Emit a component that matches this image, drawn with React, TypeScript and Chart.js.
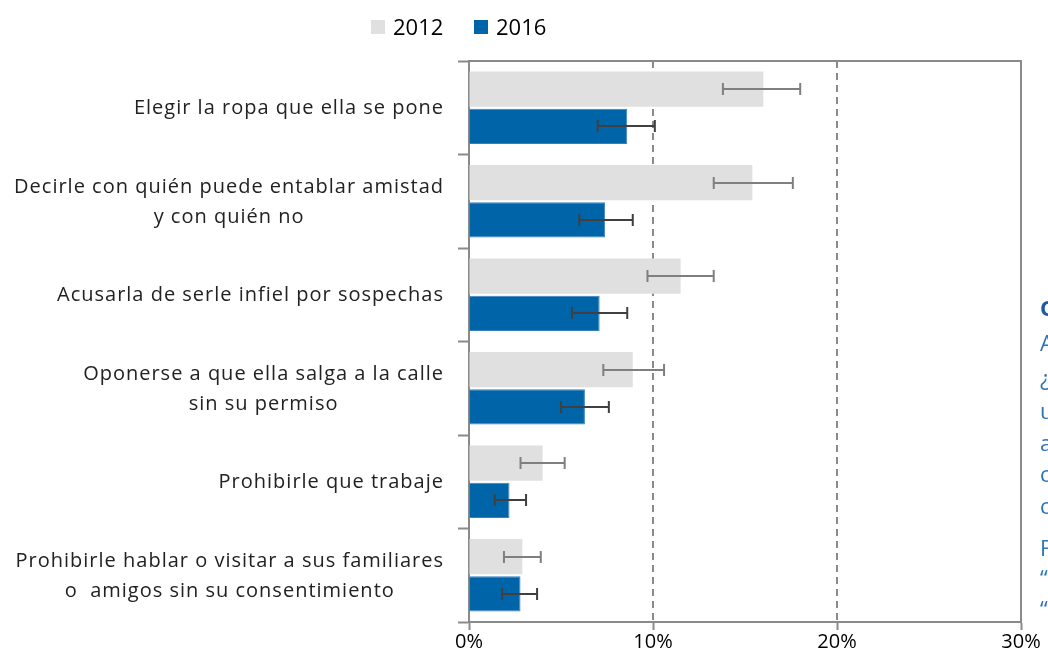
import React, { useEffect, useRef } from "react";
import { Chart, registerables } from "chart.js";

Chart.register(...registerables);

const categories: string[][] = [
  ["Elegir la ropa que ella se pone"],
  ["Decirle con quién puede entablar amistad", "y con quién no"],
  ["Acusarla de serle infiel por sospechas"],
  ["Oponerse a que ella salga a la calle", "sin su permiso"],
  ["Prohibirle que trabaje"],
  ["Prohibirle hablar o visitar a sus familiares", "o  amigos sin su consentimiento"],
];

const seriesNames = ["2012", "2016"];
const values2012 = [16.0, 15.4, 11.5, 8.9, 4.0, 2.9];
const low2012 = [13.8, 13.3, 9.7, 7.3, 2.8, 1.9];
const high2012 = [18.0, 17.6, 13.3, 10.6, 5.2, 3.9];
const values2016 = [8.6, 7.4, 7.1, 6.3, 2.2, 2.8];
const low2016 = [7.0, 6.0, 5.6, 5.0, 1.4, 1.8];
const high2016 = [10.1, 8.9, 8.6, 7.6, 3.1, 3.7];
const xTicks = [0, 10, 20, 30];

const sideLetters = ["C", "A", "¿", "u", "a", "c", "c", "F", "“", "“"];
const sideLetterTops = [293, 328, 363, 396, 428, 459, 491, 533, 563, 594];

const FONT = "'Open Sans', 'Noto Sans', sans-serif";
const COLORS = ["#e0e0e0", "#0064a8"];
const ERR_COLORS = ["#7f7f7f", "#404040"];
const AXIS = "#8a8a8a";

export default function App() {
  const ref = useRef<HTMLCanvasElement | null>(null);

  useEffect(() => {
    if (!ref.current) return;
    const lows = [low2012, low2016];
    const highs = [high2012, high2016];

    const framePlugin = {
      id: "frame",
      beforeDatasetsDraw(chart: any) {
        const { ctx, chartArea, scales } = chart;
        const x = scales.x;
        ctx.save();
        ctx.strokeStyle = AXIS;
        ctx.lineWidth = 2;
        ctx.setLineDash([7, 5]);
        for (const v of xTicks.slice(1, -1)) {
          const px = Math.round(x.getPixelForValue(v));
          ctx.beginPath();
          ctx.moveTo(px, chartArea.top);
          ctx.lineTo(px, chartArea.bottom);
          ctx.stroke();
        }
        ctx.setLineDash([]);
        const rx = Math.round(x.getPixelForValue(xTicks[xTicks.length - 1]));
        ctx.beginPath();
        ctx.moveTo(chartArea.left, chartArea.top);
        ctx.lineTo(rx, chartArea.top);
        ctx.lineTo(rx, chartArea.bottom);
        ctx.stroke();
        ctx.restore();
      },
      afterDatasetsDraw(chart: any) {
        const { ctx, scales } = chart;
        const x = scales.x;
        ctx.save();
        chart.data.datasets.forEach((_ds: any, di: number) => {
          const meta = chart.getDatasetMeta(di);
          ctx.strokeStyle = ERR_COLORS[di];
          ctx.lineWidth = 2;
          meta.data.forEach((bar: any, i: number) => {
            const { y } = bar.getProps(["y"], true);
            const x1 = x.getPixelForValue(lows[di][i]);
            const x2 = x.getPixelForValue(highs[di][i]);
            const cy = Math.round(y);
            ctx.beginPath();
            ctx.moveTo(x1, cy);
            ctx.lineTo(x2, cy);
            ctx.moveTo(x1, cy - 6);
            ctx.lineTo(x1, cy + 6);
            ctx.moveTo(x2, cy - 6);
            ctx.lineTo(x2, cy + 6);
            ctx.stroke();
          });
        });
        ctx.restore();
      },
      afterDraw(chart: any) {
        const { ctx, scales } = chart;
        const yS = scales.y;
        ctx.save();
        ctx.font = `20px ${FONT}`;
        (ctx as any).letterSpacing = "1px";
        ctx.fillStyle = "#222222";
        ctx.textAlign = "center";
        ctx.textBaseline = "middle";
        const right = 444;
        categories.forEach((lines, i) => {
          const cy = yS.getPixelForTick(i);
          const w = Math.max(...lines.map((l) => ctx.measureText(l).width));
          const cx = right - w / 2;
          lines.forEach((l, j) => {
            ctx.fillText(l, cx, cy + (j - (lines.length - 1) / 2) * 30 + 1);
          });
        });
        ctx.restore();
      },
    };

    const chart = new Chart(ref.current, {
      type: "bar",
      data: {
        labels: categories.map((c) => c.join(" ")),
        datasets: [
          {
            label: seriesNames[0],
            data: values2012,
            backgroundColor: COLORS[0],
            borderWidth: 0,
            categoryPercentage: 0.8,
            barPercentage: 0.94,
          },
          {
            label: seriesNames[1],
            data: values2016,
            backgroundColor: COLORS[1],
            borderColor: "#3a7fbf",
            borderWidth: 1,
            categoryPercentage: 0.8,
            barPercentage: 0.94,
          },
        ],
      },
      options: {
        indexAxis: "y",
        responsive: false,
        animation: false,
        layout: { padding: { top: 61, right: 27, left: 0, bottom: 0 } },
        plugins: {
          legend: { display: false },
          tooltip: { enabled: false },
        },
        scales: {
          x: {
            min: 0,
            max: 30,
            afterBuildTicks(scale: any) {
              scale.ticks = xTicks.map((v) => ({ value: v }));
            },
            afterFit(scale: any) {
              scale.height = 44;
            },
            ticks: {
              callback: (v: any) => `${v}%`,
              color: "#000",
              font: { family: FONT, size: 20 },
              padding: 0,
              maxRotation: 0,
            },
            grid: {
              drawOnChartArea: false,
              drawTicks: true,
              tickLength: 8,
              tickColor: AXIS,
              tickWidth: 2,
            },
            border: { display: true, color: AXIS, width: 2 },
          },
          y: {
            afterFit(scale: any) {
              scale.width = 469;
            },
            ticks: { display: false },
            grid: {
              offset: true,
              drawOnChartArea: false,
              drawTicks: true,
              tickLength: 11,
              tickColor: AXIS,
              tickWidth: 2,
            },
            border: { display: true, color: AXIS, width: 2 },
          },
        },
      },
      plugins: [framePlugin],
    });
    return () => chart.destroy();
  }, []);

  const legendText: React.CSSProperties = {
    position: "absolute",
    top: 11,
    fontFamily: FONT,
    fontSize: 22,
    lineHeight: "30px",
    color: "#000",
  };
  const box: React.CSSProperties = {
    position: "absolute",
    top: 20,
    width: 14,
    height: 14,
  };

  return (
    <div style={{ position: "absolute", left: 0, top: 0, width: 1048, height: 666, overflow: "hidden", background: "#fff" }}>
      <canvas ref={ref} width={1048} height={666} style={{ position: "absolute", left: 0, top: 0 }} />
      <div style={{ ...box, left: 371, background: COLORS[0] }} />
      <div style={{ ...legendText, left: 393 }}>{seriesNames[0]}</div>
      <div style={{ ...box, left: 474, background: COLORS[1] }} />
      <div style={{ ...legendText, left: 496 }}>{seriesNames[1]}</div>
      <div style={{ position: "absolute", left: 1040, top: 0, width: 8, height: 666, overflow: "hidden" }}>
        {sideLetters.map((ch, i) => (
          <div
            key={i}
            style={{
              position: "absolute",
              left: 0,
              top: sideLetterTops[i],
              fontFamily: FONT,
              fontSize: 22,
              lineHeight: "28px",
              fontWeight: i === 0 ? 700 : 400,
              color: i === 0 ? "#1f5a9e" : "#2e75b6",
              whiteSpace: "nowrap",
            }}
          >
            {ch}
          </div>
        ))}
      </div>
    </div>
  );
}
